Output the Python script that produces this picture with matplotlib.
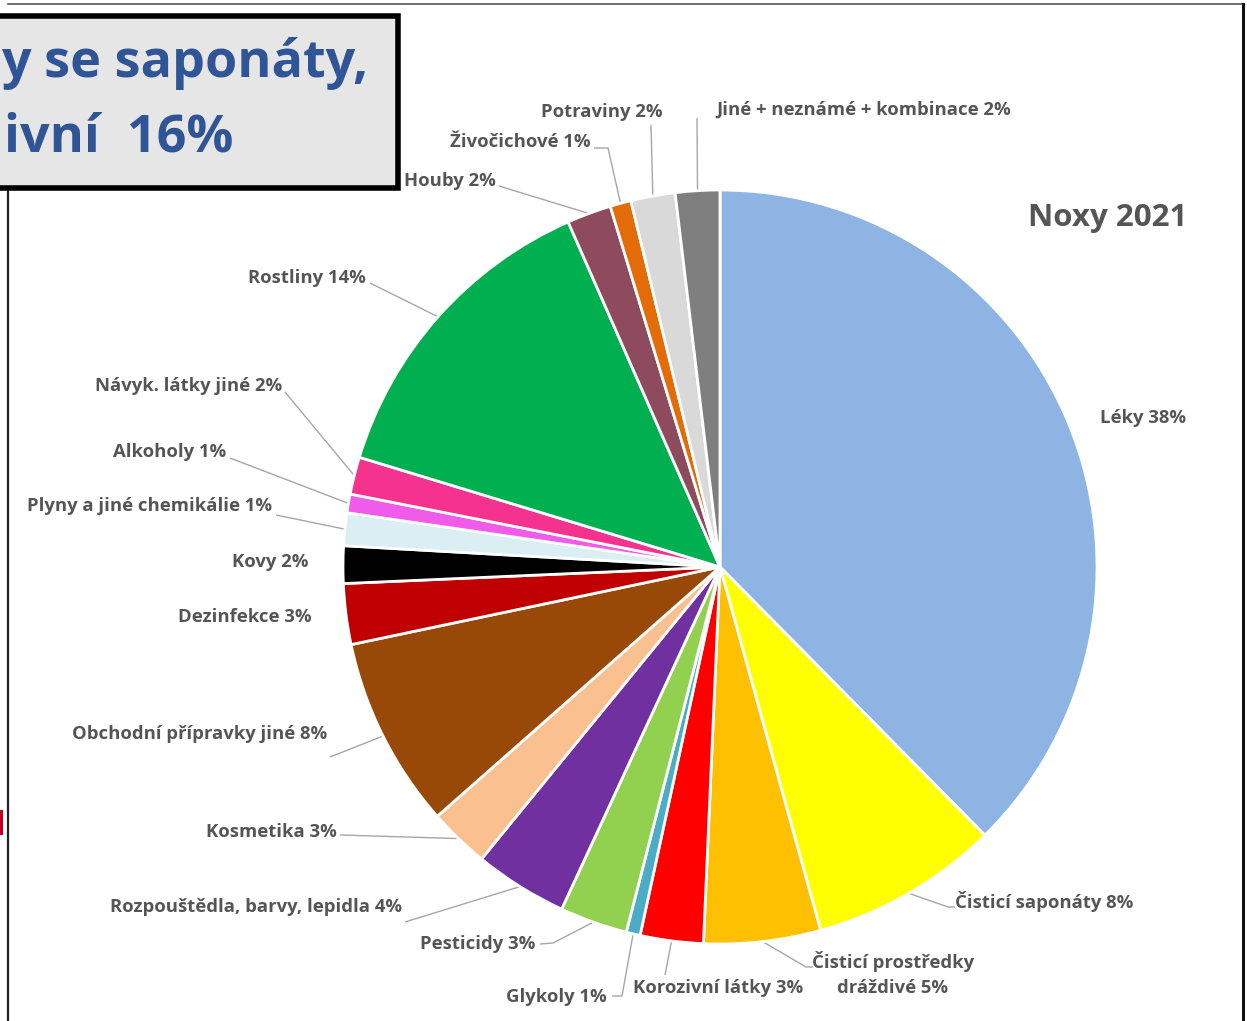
import matplotlib
matplotlib.use('Agg')
import matplotlib.pyplot as plt
import numpy as np

# Noxy 2021 - share of enquiries by agent group (%)
Labels = ['Léky', 'Čisticí saponáty', 'Čisticí prostředky\ndráždivé', 'Korozivní látky',
          'Glykoly', 'Pesticidy', 'Rozpouštědla, barvy, lepidla', 'Kosmetika',
          'Obchodní přípravky jiné', 'Dezinfekce', 'Kovy', 'Plyny a jiné chemikálie',
          'Alkoholy', 'Návyk. látky jiné', 'Rostliny', 'Houby', 'Živočichové',
          'Potraviny', 'Jiné + neznámé + kombinace']
Shares = [37.6, 8.1, 5.0, 2.7, 0.6, 2.9, 4.0, 2.6, 8.2, 2.6, 1.6, 1.4, 0.8, 1.6,
          13.7, 1.9, 0.9, 1.9, 1.9]
Colours = ['#8EB4E3', '#FFFF00', '#FFC000', '#FF0000', '#4BACC6', '#92D050', '#7030A0',
           '#FAC090', '#984807', '#C00000', '#000000', '#DAEEF3', '#F05BEA', '#F5338F',
           '#00B050', '#8E4B5E', '#E36C09', '#D9D9D9', '#7F7F7F']

W, H = 1247, 1021
def Y(y):
    return H - y  # work in pixel rows from the top

plt.rcParams['font.family'] = ['Open Sans', 'DejaVu Sans']
fig = plt.figure(figsize=(W/100., H/100.), dpi=100)
ax = fig.add_axes([0, 0, 1, 1])

cx, cy, rad = 720, 567, 377
wedges, _ = ax.pie(Shares, colors=Colours, startangle=90, counterclock=False,
                   center=(cx, Y(cy)), radius=rad,
                   wedgeprops=dict(edgecolor='white', linewidth=2.0))
ax.set_xlim(0, W)
ax.set_ylim(0, H)
ax.set_aspect('equal')
ax.axis('off')

def EdgePt(i, frac=0.5, r=1.0):
    w = wedges[i]
    th = np.deg2rad(w.theta1 + frac*(w.theta2 - w.theta1))
    return cx + r*rad*np.cos(th), Y(cy) + r*rad*np.sin(th)

txtc = '#555555'
lc = '#A6A6A6'
fs = 13.3

# label text position (px), alignment, leader line bend points (px) or None
Layout = [
    ((1143, 418), 'center', None),
    ((955, 902), 'left', [(948, 907), (955, 907)]),
    ((893, 974), 'center', [(806, 967), (813, 967)]),
    ((718, 988), 'center', [(665, 975)]),
    ((607, 997), 'right', [(622, 996), (612, 996)]),
    ((535, 944), 'right', [(553, 943), (540, 944)]),
    ((402, 907), 'right', [(405, 922)]),
    ((337, 832), 'right', [(340, 835)]),
    ((327, 734), 'right', [(330, 757)]),
    ((312, 617), 'right', None),
    ((308, 562), 'right', None),
    ((272, 506), 'right', [(276, 515)]),
    ((226, 452), 'right', [(230, 458)]),
    ((282, 386), 'right', [(285, 392)]),
    ((366, 278), 'right', [(370, 283)]),
    ((496, 181), 'right', [(499, 186)]),
    ((591, 142), 'right', [(608, 148), (594, 148)]),
    ((602, 112), 'center', [(651, 125)]),
    ((864, 110), 'center', [(697, 118)]),
]

for i, (lab, val) in enumerate(zip(Labels, Shares)):
    (tx, ty), ha, pts = Layout[i]
    txt = lab + ' ' + str(int(round(val))) + '%'
    ax.text(tx, Y(ty), txt, ha=ha, va='center', fontsize=fs, fontweight='bold',
            color=txtc, linespacing=1.45)
    if pts is not None:
        x0, y0 = EdgePt(i)
        xs = [x0] + [p[0] for p in pts]
        ys = [y0] + [Y(p[1]) for p in pts]
        ax.plot(xs, ys, c=lc, lw=1.0, solid_capstyle='butt', zorder=0)

ax.text(1187, Y(218), 'Noxy 2021', ha='right', va='center', fontsize=22.5,
        fontweight='bold', color=txtc)

# chart frame
ax.plot([8, 1243], [Y(4), Y(4)], c='#555555', lw=1.2)
ax.plot([8, 8], [Y(190), Y(1021)], c='#222222', lw=1.6)
ax.plot([1243, 1243], [Y(4), Y(1021)], c='#111111', lw=2.2)
ax.add_patch(plt.Rectangle((0, Y(835)), 3, 25, fc='#C00020', ec='none'))

# highlight box over the chart
ax.add_patch(plt.Rectangle((-20, Y(188)), 418, 172, fc='#E6E6E6', ec='black', lw=4,
                           zorder=5))
ax.text(368, Y(64), 'y se saponáty,', ha='right', va='center', fontsize=37.5,
        fontweight='bold', color='#2F5597', zorder=6)
ax.text(233, Y(138), 'ivní  16%', ha='right', va='center', fontsize=37.5,
        fontweight='bold', color='#2F5597', zorder=6)

plt.savefig('out.png', dpi=100)
print("And were done")
